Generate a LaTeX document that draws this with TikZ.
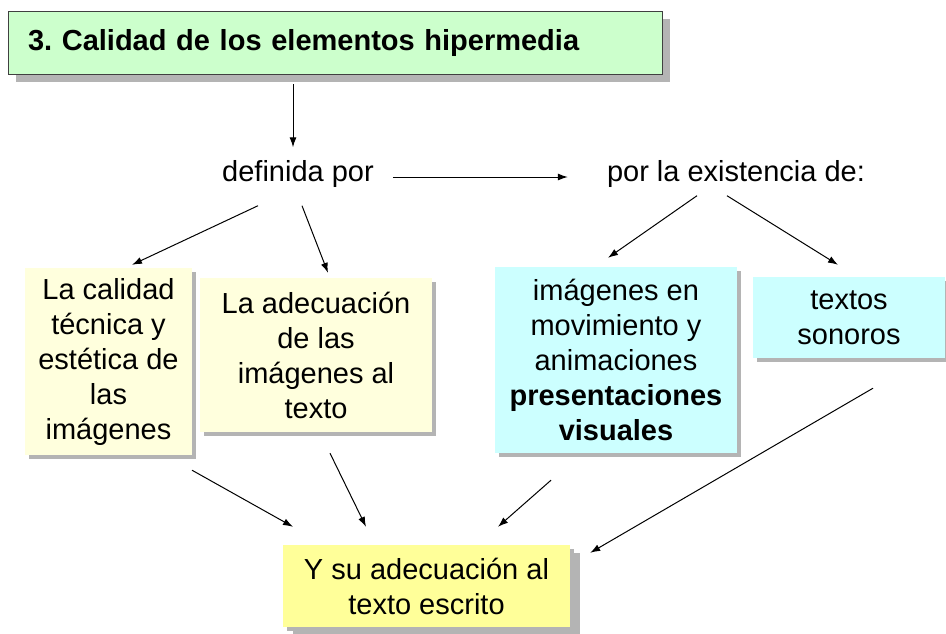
\documentclass[tikz,border=0pt]{standalone}
\usepackage{fontspec}
\setmainfont{Liberation Sans}
\usetikzlibrary{shadows,arrows.meta}
\frenchspacing

\begin{document}
\begin{tikzpicture}[x=1pt,y=-1pt,
  caja/.style={rectangle, align=center, inner sep=0pt, font=\fontsize{29}{35}\selectfont,
    drop shadow={shadow xshift=4pt, shadow yshift=-4pt, fill=sombra, opacity=1}},
  texto/.style={inner sep=0pt, font=\fontsize{29}{35}\selectfont},
  flecha/.style={-{Latex[length=10pt,width=7pt]}, line width=1pt}]

    \definecolor{verde_claro}{HTML}{CCFFCC}
    \definecolor{crema}{HTML}{FFFFDD}
    \definecolor{celeste}{HTML}{CCFFFF}
    \definecolor{amarillo}{HTML}{FFFF99}
    \definecolor{sombra}{HTML}{B4B4B4}

  \useasboundingbox (0,0) rectangle (946,633);

  % Title of the section

  \node[rectangle, draw=black!75, fill=verde_claro, minimum width=654pt, minimum height=63pt,
    text width=614pt, inner xsep=20pt, align=left,
    font=\bfseries\fontsize{29}{35}\selectfont,
    drop shadow={shadow xshift=8pt, shadow yshift=-8pt, fill=sombra, opacity=1}]
    (titulo) at (335,42.5) {3. Calidad de los elementos hipermedia};

  % Linking words

  \node[texto] (definida) at (298,174) {definida por};
  \node[texto] (existencia) at (736,174) {por la existencia de:};

  % Image boxes

  \node[caja, fill=crema, minimum width=167pt, minimum height=187pt] (calidad) at (108.5,361.5)
    {La calidad\\técnica y\\estética de\\las\\imágenes};
  \node[caja, fill=crema, minimum width=232pt, minimum height=154pt] (adecuacion) at (316,355)
    {La adecuación\\de las\\imágenes al\\texto};

  % Media boxes

  \node[caja, fill=celeste, minimum width=242pt, minimum height=186pt] (animaciones) at (616,360)
    {imágenes en\\movimiento y\\animaciones\\\textbf{presentaciones}\\\textbf{visuales}};
  \node[caja, fill=celeste, minimum width=192pt, minimum height=81pt] (sonoros) at (849,317.5)
    {textos\\sonoros};

  % Final box

  \node[caja, fill=amarillo, minimum width=287pt, minimum height=82pt,
    drop shadow={shadow xshift=10pt, shadow yshift=-8pt, fill=sombra, opacity=1}]
    (escrito) at (426.5,586) {Y su adecuación al\\texto escrito};

  % Connections

  \draw[flecha] ([shift={(-42,10)}]titulo.south) -- ([shift={(-5,-13)}]definida.north);
  \draw[flecha] ([shift={(19,3)}]definida.east) -- ([shift={(-39,3)}]existencia.west);
  \draw[flecha] ([shift={(-40,18)}]definida.south) -- ([shift={(23.5,-3)}]calidad.north);
  \draw[flecha] ([shift={(4,18)}]definida.south) -- ([shift={(12,-5)}]adecuacion.north);
  \draw[flecha] ([shift={(-39,8)}]existencia.south) -- ([shift={(-8,-9)}]animaciones.north);
  \draw[flecha] ([shift={(-9,8)}]existencia.south) -- ([shift={(-11,-12)}]sonoros.north);

  \draw[flecha] ([shift={(83.5,15)}]calidad.south) -- ([shift={(-133.5,-18)}]escrito.north);
  \draw[flecha] ([shift={(14,21)}]adecuacion.south) -- ([shift={(-60.5,-18)}]escrito.north);
  \draw[flecha] ([shift={(-65,27)}]animaciones.south) -- ([shift={(71.5,-18)}]escrito.north);
  \draw[flecha] ([shift={(24,30)}]sonoros.south) -- ([shift={(20,8)}]escrito.north east);

\end{tikzpicture}
\end{document}
